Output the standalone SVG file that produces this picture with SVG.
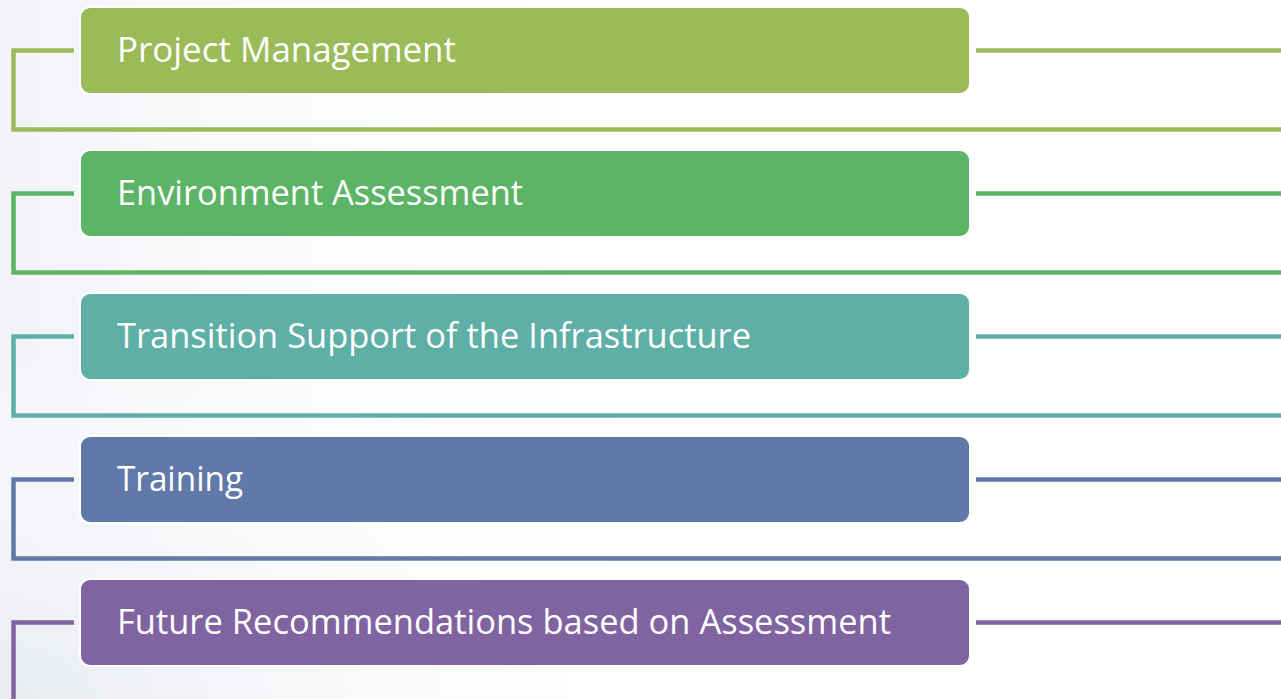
<svg xmlns="http://www.w3.org/2000/svg" width="1281" height="699" viewBox="0 0 1281 699">
<defs>
<linearGradient id="bg" x1="0" y1="0" x2="1" y2="0">
<stop offset="0" stop-color="#f1f3f7"/>
<stop offset="0.2" stop-color="#fafbfc"/>
<stop offset="0.5" stop-color="#ffffff"/>
</linearGradient>
<radialGradient id="bg2" cx="0" cy="1" r="0.5">
<stop offset="0" stop-color="#e8ebf1" stop-opacity="1"/>
<stop offset="1" stop-color="#ffffff" stop-opacity="0"/>
</radialGradient>
</defs>
<style>
.box{stroke:#ffffff;stroke-width:2}
.lbl{font-family:"Open Sans","Noto Sans","Liberation Sans",sans-serif;font-size:34.5px;fill:#ffffff}
.ln{fill:none;stroke-width:4.5;stroke-linejoin:miter;stroke-linecap:butt}
.c1{stroke:#9bbb59}.f1{fill:#9bbb59}
.c2{stroke:#5cb567}.f2{fill:#5cb567}
.c3{stroke:#5eafa5}.f3{fill:#5eafa5}
.c4{stroke:#6079a8}.f4{fill:#6079a8}
.c5{stroke:#8064a2}.f5{fill:#8064a2}
</style>
<rect width="1281" height="699" fill="#ffffff"/>
<rect width="1281" height="699" fill="url(#bg)"/>
<rect width="1281" height="699" fill="url(#bg2)"/>
<g id="connectors">
<path class="ln c1" d="M74,50.5 H13.5 V129.5 H1281"/>
<path class="ln c1" d="M976,50.5 H1281"/>
<path class="ln c2" d="M74,193.5 H13.5 V272.5 H1281"/>
<path class="ln c2" d="M976,193.5 H1281"/>
<path class="ln c3" d="M74,336.5 H13.5 V415.5 H1281"/>
<path class="ln c3" d="M976,336.5 H1281"/>
<path class="ln c4" d="M74,479.5 H13.5 V558.5 H1281"/>
<path class="ln c4" d="M976,479.5 H1281"/>
<path class="ln c5" d="M74,622.5 H13.5 V699"/>
<path class="ln c5" d="M976,622.5 H1281"/>
</g>
<g id="node1"><rect class="box f1" x="80" y="7" width="890" height="87" rx="10"/><text class="lbl" x="117" y="62" textLength="339" lengthAdjust="spacingAndGlyphs">Project Management</text></g>
<g id="node2"><rect class="box f2" x="80" y="150" width="890" height="87" rx="10"/><text class="lbl" x="117" y="205" textLength="406" lengthAdjust="spacingAndGlyphs">Environment Assessment</text></g>
<g id="node3"><rect class="box f3" x="80" y="293" width="890" height="87" rx="10"/><text class="lbl" x="117" y="348" textLength="634" lengthAdjust="spacingAndGlyphs">Transition Support of the Infrastructure</text></g>
<g id="node4"><rect class="box f4" x="80" y="436" width="890" height="87" rx="10"/><text class="lbl" x="117" y="491" textLength="126" lengthAdjust="spacingAndGlyphs">Training</text></g>
<g id="node5"><rect class="box f5" x="80" y="579" width="890" height="87" rx="10"/><text class="lbl" x="117" y="634" textLength="774" lengthAdjust="spacingAndGlyphs">Future Recommendations based on Assessment</text></g>
</svg>
